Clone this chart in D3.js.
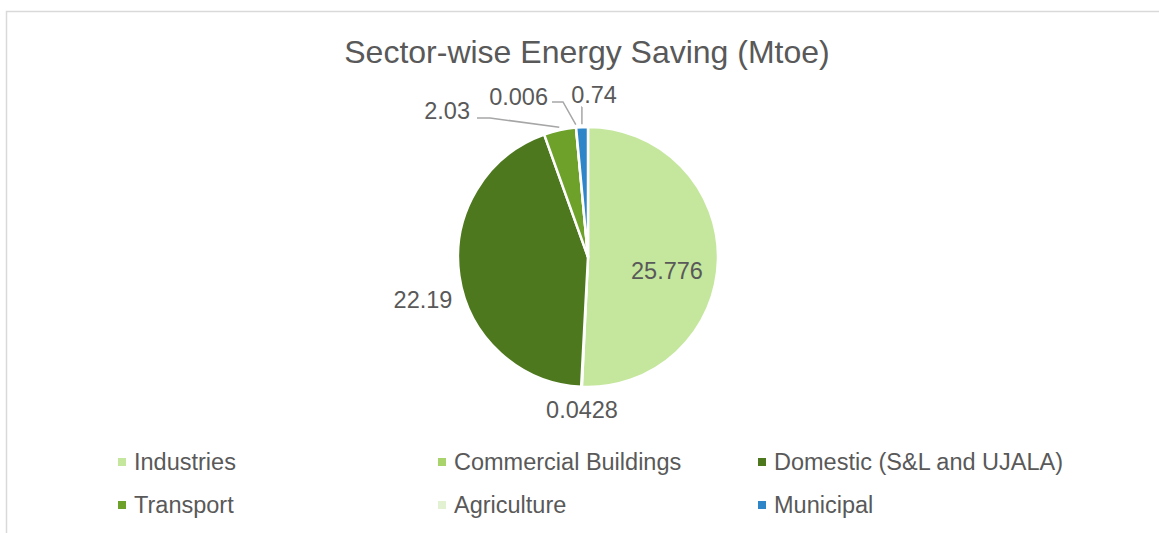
<!DOCTYPE html>
<html>
<head>
<meta charset="utf-8">
<script src="https://cdn.jsdelivr.net/npm/d3@7"></script>
<style>
  body { margin: 0; background: #fff; }
  svg text { font-family: "Liberation Sans", Arial, sans-serif; fill: #595959; }
</style>
</head>
<body>
<svg id="chart"></svg>
<script>
// data
var sectors = ["Industries", "Commercial Buildings", "Domestic (S&L and UJALA)", "Transport", "Agriculture", "Municipal"];
var savings = [25.776, 0.0428, 22.19, 2.03, 0.006, 0.74];
var valueLabels = ["25.776", "0.0428", "22.19", "2.03", "0.006", "0.74"];
var sectorColors = ["#C5E79D", "#A9D46C", "#4E781E", "#6DA12A", "#E3F1D3", "#2E86C8"];

var width = 1159, height = 533;
var cx = 588, cy = 257, radius = 130;

var svg = d3.select("#chart")
    .attr("width", width)
    .attr("height", height);

// chart area border
svg.append("rect")
    .attr("x", 6.5).attr("y", 11.5)
    .attr("width", 1200).attr("height", 600)
    .attr("fill", "none")
    .attr("stroke", "#D9D9D9")
    .attr("stroke-width", 1.5);

svg.append("text")
    .attr("x", 587).attr("y", 63)
    .attr("text-anchor", "middle")
    .style("font-size", "32px")
    .text("Sector-wise Energy Saving (Mtoe)");

var rows = sectors.map(function(s, i) {
    return {name: s, value: savings[i], label: valueLabels[i], color: sectorColors[i]};
});

var pie = d3.pie().sort(null).value(function(d) { return d.value; });
var arc = d3.arc().innerRadius(0).outerRadius(radius);
var arcs = pie(rows);

var g = svg.append("g").attr("transform", "translate(" + cx + "," + cy + ")");

g.selectAll("path")
    .data(arcs)
    .enter()
    .append("path")
    .attr("d", arc)
    .attr("fill", function(d) { return d.data.color; })
    .attr("stroke", "#fff")
    .attr("stroke-width", 2.5)
    .attr("stroke-linejoin", "round");

// label placement (relative to pie centre): [x, y, anchor, elbow?]
var labelPlace = [
    [79, 14, "middle", null],
    [-6, 153, "middle", null],
    [-165, 43, "middle", null],
    [-118, -146, "end", [-98, -139]],
    [-40, -160, "end", [-25, -155]],
    [6, -162, "middle", null]
];
var leaderFrom = [null, null, null, [-111, -139], [-36, -155], [-6, -150]];

var edge = function(d, r) {
    var a = (d.startAngle + d.endAngle) / 2;
    return [r * Math.sin(a), -r * Math.cos(a)];
};

arcs.forEach(function(d, i) {
    if (leaderFrom[i]) {
        var pts = [leaderFrom[i]];
        if (labelPlace[i][3]) pts.push(labelPlace[i][3]);
        else pts.push([edge(d, radius + 3)[0], leaderFrom[i][1]]);
        pts.push(edge(d, radius + 3));
        g.append("path")
            .attr("d", d3.line()(pts))
            .attr("fill", "none")
            .attr("stroke", "#A6A6A6")
            .attr("stroke-width", 1.5);
    }
});

g.selectAll("text.val")
    .data(arcs)
    .enter()
    .append("text")
    .attr("class", "val")
    .attr("x", function(d, i) { return labelPlace[i][0]; })
    .attr("y", function(d, i) { return labelPlace[i][1]; })
    .attr("dy", "0.35em")
    .attr("text-anchor", function(d, i) { return labelPlace[i][2]; })
    .style("font-size", "23.5px")
    .text(function(d) { return d.data.label; });

// legend, 3 columns x 2 rows
var legend = svg.append("g");
var item = legend.selectAll("g")
    .data(rows)
    .enter()
    .append("g")
    .attr("transform", function(d, i) {
        return "translate(" + (118 + (i % 3) * 320) + "," + (462 + Math.floor(i / 3) * 43) + ")";
    });
item.append("rect")
    .attr("x", 0).attr("y", -4)
    .attr("width", 8).attr("height", 8)
    .attr("fill", function(d) { return d.color; });
item.append("text")
    .attr("x", 16).attr("y", 0)
    .attr("dy", "0.35em")
    .style("font-size", "23.5px")
    .text(function(d) { return d.name; });
</script>
</body>
</html>
